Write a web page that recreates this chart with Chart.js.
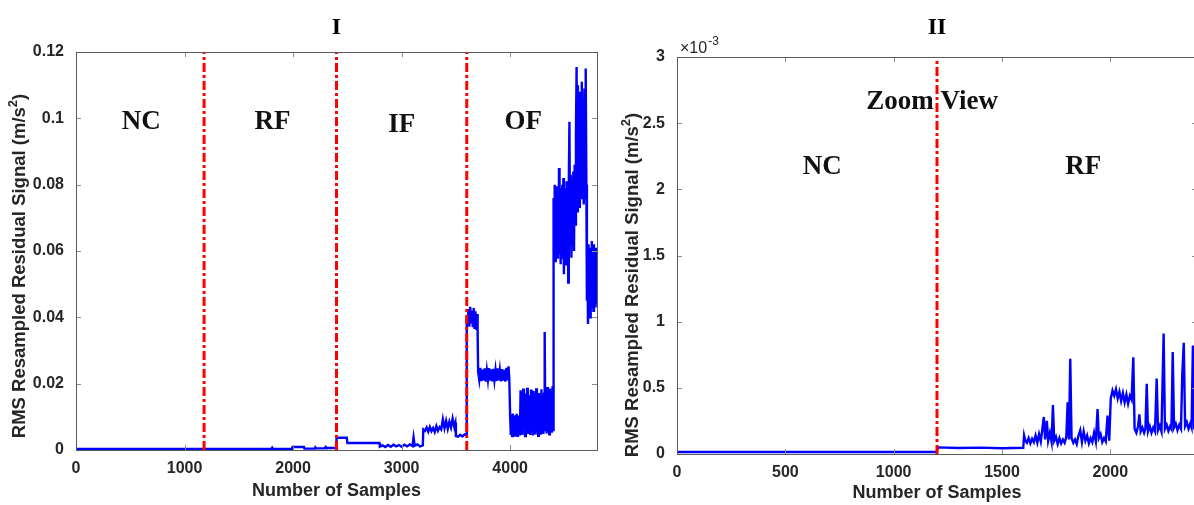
<!DOCTYPE html>
<html>
<head>
<meta charset="utf-8">
<script src="https://cdn.jsdelivr.net/npm/chart.js@4.4.1/dist/chart.umd.min.js"></script>
<style>
html,body{margin:0;padding:0;background:#fff;}
#wrap{position:relative;width:1194px;height:505px;overflow:hidden;background:#fff;}
#p1{position:absolute;left:0;top:0;width:600px;height:505px;}
#p2{position:absolute;left:600px;top:0;width:600px;height:505px;}
</style>
</head>
<body>
<div id="wrap">
  <div id="p1"><canvas id="c1" width="600" height="505"></canvas></div>
  <div id="p2"><canvas id="c2" width="600" height="505"></canvas></div>
</div>
<script>
// ---------------- DATA ----------------
// Panel I : RMS resampled residual signal (m/s^2) vs sample number
const leftX = [
  0, 600, 1200, 1800, 1808, 1815, 1990, 1995, 2100, 2105, 2200, 2205, 2212, 2290, 2300, 2310, 2320, 2398,
  2400, 2495, 2500, 2795, 2800,
  2825, 2850, 2875, 2900, 2925, 2950, 2975, 3000, 3025, 3050, 3075, 3100, 3110, 3120, 3145, 3170, 3195,
  3200, 3215, 3230, 3245, 3260, 3275, 3290, 3305, 3320, 3335, 3350, 3365, 3380, 3395, 3410, 3425, 3440, 3455, 3470, 3485, 3495,
  3500, 3520, 3540, 3560, 3580, 3595,
  3600, 3608, 3616, 3624, 3632, 3640, 3648, 3656, 3664, 3672, 3680, 3688, 3696, 3700,
  3705, 3715, 3725, 3735, 3745, 3755, 3765, 3775, 3785, 3795, 3805, 3815, 3825, 3835, 3845, 3855, 3865, 3875, 3885, 3895, 3905, 3915, 3925, 3935, 3945, 3955, 3965, 3975, 3985, 3992,
  4000, 4006, 4012, 4018, 4024, 4030, 4036, 4042, 4048, 4054, 4060, 4066, 4072, 4078, 4084, 4090,
  4096, 4102, 4108, 4114, 4120, 4126, 4132, 4138, 4144, 4150, 4156, 4162, 4168, 4174, 4180, 4186, 4192, 4198, 4204, 4210, 4216, 4222, 4228, 4234, 4240, 4246, 4252, 4258, 4264, 4270, 4276, 4282, 4288, 4294, 4300, 4306, 4312, 4318, 4324, 4330, 4336, 4342, 4348, 4354, 4360, 4366, 4372, 4378, 4384, 4390, 4396,
  4400, 4405, 4410, 4415, 4420, 4425, 4430, 4435, 4440, 4445, 4450, 4455, 4460, 4465, 4470, 4475, 4480, 4485, 4490, 4495, 4500, 4505, 4510, 4515, 4520, 4525, 4530, 4535, 4540, 4546, 4552, 4558, 4564, 4570, 4576, 4582, 4588, 4594, 4600, 4606, 4612, 4618, 4624, 4630, 4636, 4642, 4648, 4654, 4660, 4666, 4672, 4678, 4684, 4690, 4696, 4702,
  4707, 4712, 4717, 4722, 4727, 4732, 4737, 4742, 4747, 4752, 4757, 4762, 4767, 4772, 4777, 4782, 4787, 4792, 4797, 4800
];
const leftY = [
  .0003, .0003, .0003, .0003, .0007, .0003, .0003, .0009, .0009, .0004, .0004, .0008, .0005, .0005, .0009, .0005, .0006, .0006,
  .0037, .0037, .0021, .0021, .0010,
  .0014, .0009, .0015, .0010, .0016, .0011, .0015, .0010, .0016, .0011, .0017, .0012, .0038, .0013, .0017, .0011, .0014,
  .0062, .0058, .0068, .0055, .0070, .0057, .0066, .0054, .0072, .0058, .0069, .0062, .0093, .0066, .0088, .0064, .0085, .0068, .0095, .0070, .0082,
  .0042, .0040, .0046, .0041, .0047, .0044,
  .0400, .0380, .0425, .0372, .0432, .0385, .0420, .0370, .0428, .0365, .0418, .0362, .0410, .0360,
  .0235, .0212, .0248, .0208, .0242, .0210, .0246, .0206, .0240, .0212, .0247, .0209, .0243, .0207, .0245, .0211, .0241, .0208, .0246, .0210, .0240, .0207, .0244, .0209, .0242, .0206, .0248, .0210, .0252, .0215,
  .0100, .0045, .0108, .0042, .0110, .0048, .0105, .0040, .0102, .0046, .0109, .0043, .0104, .0050, .0098, .0044,
  .0180, .0050, .0175, .0045, .0185, .0060, .0150, .0042, .0170, .0055, .0188, .0048, .0140, .0052, .0165, .0045, .0182, .0058, .0155, .0044, .0178, .0050, .0145, .0047, .0186, .0056, .0160, .0043, .0172, .0052, .0150, .0046, .0183, .0054, .0165, .0048, .0170, .0356, .0060, .0175, .0050, .0190, .0055, .0168, .0047, .0185, .0058, .0176, .0052, .0192, .0060,
  .0760, .0600, .0800, .0570, .0780, .0620, .0795, .0580, .0770, .0600, .0850, .0590, .0790, .0560, .0760, .0620, .0800, .0575, .0820, .0530, .0780, .0610, .0790, .0560, .0810, .0600, .0770, .0505, .0800, .0990, .0620, .0830, .0580, .0810, .0640, .0840, .0600, .0860, .0680, .0950, .1155, .0720, .1100, .0750, .1080, .0730, .1050, .0760, .1110, .0780, .1060, .0740, .1090, .0760, .1150, .0800,
  .0450, .0600, .0380, .0620, .0420, .0580, .0400, .0610, .0440, .0630, .0430, .0590, .0420, .0620, .0450, .0600, .0430, .0610, .0440, .0580
];
const leftBoundaries = [1180, 2400, 3600];
const leftXTicks = [0, 1000, 2000, 3000, 4000];
const leftXLabels = ['0', '1000', '2000', '3000', '4000'];
const leftYTicks = [0, 0.02, 0.04, 0.06, 0.08, 0.1, 0.12];
const leftYLabels = ['0', '0.02', '0.04', '0.06', '0.08', '0.1', '0.12'];
const leftRegions = ['NC', 'RF', 'IF', 'OF'];

// Panel II : zoom view, values in units of 1e-3 m/s^2
const rightX = [
  0, 600, 1198, 1205, 1300, 1400, 1500, 1598,
  1602, 1608, 1615, 1623, 1631, 1639, 1647, 1655, 1663, 1671, 1679, 1687, 1693, 1699, 1707, 1713, 1721, 1729, 1735, 1741, 1749, 1757, 1765, 1773, 1781, 1789, 1797, 1803, 1809, 1815, 1821, 1829, 1837, 1845, 1853, 1861, 1869, 1877, 1885, 1893, 1901, 1909, 1917, 1925, 1933, 1941, 1947, 1955, 1963, 1971, 1979, 1987, 1995,
  2002, 2010, 2018, 2026, 2034, 2042, 2050, 2058, 2066, 2074, 2082, 2090, 2098, 2106,
  2112, 2120, 2128, 2134, 2140, 2148, 2156, 2162, 2168, 2174, 2182, 2190, 2198, 2206, 2214, 2220, 2228, 2236, 2246, 2252, 2260, 2268, 2276, 2282, 2288, 2294, 2302, 2310, 2318, 2326, 2332, 2339, 2345, 2353, 2361, 2369, 2375, 2381, 2387, 2395, 2400
];
const rightY = [
  .015, .015, .015, .050, .045, .048, .044, .047,
  .140, .100, .085, .120, .080, .115, .090, .140, .085, .150, .095, .200, .280, .110, .250, .100, .160, .090, .370, .100, .130, .075, .120, .080, .110, .085, .130, .390, .110, .720, .120, .085, .110, .075, .140, .180, .090, .170, .100, .140, .080, .120, .090, .160, .095, .340, .120, .150, .090, .120, .095, .290, .100,
  .420, .480, .440, .490, .420, .470, .400, .460, .390, .450, .380, .440, .410, .730,
  .190, .160, .210, .300, .170, .200, .160, .190, .530, .170, .210, .160, .200, .170, .570, .180, .215, .170, .910, .190, .220, .175, .210, .190, .770, .200, .230, .180, .220, .190, .600, .840, .210, .240, .190, .230, .200, .820, .220, .250, .210
];
const rightBoundaries = [1200];
const rightXTicks = [0, 500, 1000, 1500, 2000];
const rightXLabels = ['0', '500', '1000', '1500', '2000'];
const rightYTicks = [0, 0.5, 1, 1.5, 2, 2.5, 3];
const rightYLabels = ['0', '0.5', '1', '1.5', '2', '2.5', '3'];
const rightRegions = ['Zoom View', 'NC', 'RF'];

// ---------------- STYLE / LAYOUT ----------------
const SANS = '"Liberation Sans", Arial, Helvetica, sans-serif';
const SERIF = '"Liberation Serif", "Times New Roman", serif';
const TXT = '#262626';

function panelPlugin(p) {
  return {
    id: 'panel_' + p.name,
    afterDatasetsDraw(chart) {
      const { ctx, chartArea: a, scales: { x, y } } = chart;
      ctx.save();
      const line = (x1, y1, x2, y2) => { ctx.beginPath(); ctx.moveTo(x1, y1); ctx.lineTo(x2, y2); ctx.stroke(); };
      ctx.strokeStyle = '#8c8c8c'; ctx.lineWidth = 1;
      const L = 5;
      x.ticks.forEach(t => {
        const px = Math.round(x.getPixelForValue(t.value)) + 0.5;
        line(px, a.bottom, px, a.bottom - L);
        line(px, a.top, px, a.top + L);
      });
      y.ticks.forEach(t => {
        const py = Math.round(y.getPixelForValue(t.value)) + 0.5;
        line(a.left, py, a.left + L, py);
        line(a.right, py, a.right - L, py);
      });
      ctx.strokeStyle = '#5a5a5a';
      ctx.strokeRect(Math.round(a.left) + 0.5, Math.round(a.top) + 0.5, Math.round(a.right - a.left), Math.round(a.bottom - a.top));
      ctx.restore();
    },
    afterDraw(chart) {
      const { ctx, chartArea: a, scales: { x, y } } = chart;
      ctx.save();
      const cx = (a.left + a.right) / 2;
      ctx.fillStyle = '#000';
      ctx.font = 'bold 24px ' + SERIF;
      ctx.textAlign = 'center'; ctx.textBaseline = 'middle';
      ctx.fillText(p.title, cx, p.titleY);
      ctx.font = 'bold 27px ' + SERIF;
      ctx.fillStyle = '#111';
      p.labels.forEach((txt, i) => {
        ctx.fillText(txt, x.getPixelForValue(p.labelX[i]), y.getPixelForValue(p.labelY[i]));
      });
      ctx.fillStyle = TXT;
      ctx.font = 'bold 18px ' + SANS;
      ctx.fillText('Number of Samples', cx, p.xTitleY);
      ctx.translate(p.yTitleX, p.yTitleY);
      ctx.rotate(-Math.PI / 2);
      const main = 'RMS Resampled Residual Signal (m/s';
      const F = 'bold 18.5px ' + SANS, FS = 'bold 13px ' + SANS;
      ctx.font = F;
      const w1 = ctx.measureText(main).width;
      const w3 = ctx.measureText(')').width;
      ctx.font = FS;
      const w2 = ctx.measureText('2').width;
      const tot = w1 + w2 + w3;
      ctx.textAlign = 'left';
      ctx.font = F;
      ctx.fillText(main, -tot / 2, 0);
      ctx.font = FS;
      ctx.fillText('2', -tot / 2 + w1, -7);
      ctx.font = F;
      ctx.fillText(')', -tot / 2 + w1 + w2, 0);
      ctx.restore();
      if (p.exponent) {
        ctx.save();
        ctx.fillStyle = TXT;
        ctx.textAlign = 'left'; ctx.textBaseline = 'alphabetic';
        ctx.font = '16px ' + SANS;
        const bx = a.left + 3, by = a.top - 4;
        ctx.fillText('\u00d710', bx, by);
        const w = ctx.measureText('\u00d710').width;
        ctx.font = '12px ' + SANS;
        ctx.fillText('-3', bx + w + 1, by - 8);
        ctx.restore();
      }
    }
  };
}

function makeChart(id, cfg) {
  const boundarySets = cfg.boundaries.map(b => ({
    data: [{ x: b, y: cfg.yMin }, { x: b, y: cfg.yMax }],
    borderColor: '#ff0000', borderWidth: 3, borderDash: [9, 3, 3, 3], pointRadius: 0, fill: false
  }));
  const signal = {
    data: cfg.xs.map((v, i) => ({ x: v, y: cfg.ys[i] })),
    borderColor: '#0000ff', borderWidth: 2.4, pointRadius: 0, fill: false, tension: 0
  };
  const tickFont = { family: SANS, size: 16, weight: 'bold' };
  return new Chart(document.getElementById(id), {
    type: 'line',
    data: { datasets: [...boundarySets, signal] },
    options: {
      responsive: false, animation: false, events: [],
      layout: { padding: { top: cfg.top, right: 3, left: 0, bottom: 0 } },
      plugins: { legend: { display: false }, tooltip: { enabled: false }, title: { display: false } },
      elements: { point: { radius: 0 } },
      scales: {
        x: {
          type: 'linear', min: 0, max: cfg.xMax,
          afterBuildTicks: s => { s.ticks = cfg.xTicks.map(v => ({ value: v })); },
          afterFit: s => { s.height = 505 - cfg.bottom; },
          ticks: { callback: (v, i) => cfg.xLabels[i], font: tickFont, color: TXT, padding: 9, maxRotation: 0, autoSkip: false },
          grid: { display: false, drawTicks: false }, border: { display: false }
        },
        y: {
          type: 'linear', min: cfg.yMin, max: cfg.yMax,
          afterBuildTicks: s => { s.ticks = cfg.yTicks.map(v => ({ value: v })); },
          afterFit: s => { s.width = cfg.left; },
          ticks: { callback: (v, i) => cfg.yLabels[i], font: tickFont, color: TXT, padding: 12, autoSkip: false },
          grid: { display: false, drawTicks: false }, border: { display: false }
        }
      }
    },
    plugins: [panelPlugin(cfg.panel)]
  });
}

makeChart('c1', {
  xs: leftX, ys: leftY, boundaries: leftBoundaries,
  xMax: 4800, yMin: 0, yMax: 0.12,
  xTicks: leftXTicks, xLabels: leftXLabels, yTicks: leftYTicks, yLabels: leftYLabels,
  top: 52, bottom: 450, left: 76,
  panel: {
    name: 'I', title: 'I', titleY: 28, xTitleY: 491, yTitleX: 20, yTitleY: 266,
    labels: leftRegions, labelX: [600, 1810, 3000, 4120], labelY: [0.099, 0.099, 0.098, 0.099],
    exponent: false
  }
});

makeChart('c2', {
  xs: rightX, ys: rightY, boundaries: rightBoundaries,
  xMax: 2400, yMin: 0, yMax: 3,
  xTicks: rightXTicks, xLabels: rightXLabels, yTicks: rightYTicks, yLabels: rightYLabels,
  top: 57, bottom: 454, left: 77,
  panel: {
    name: 'II', title: 'II', titleY: 28, xTitleY: 493, yTitleX: 33, yTitleY: 285,
    labels: rightRegions, labelX: [1177, 670, 1875], labelY: [2.66, 2.17, 2.17],
    exponent: true
  }
});
</script>
</body>
</html>
